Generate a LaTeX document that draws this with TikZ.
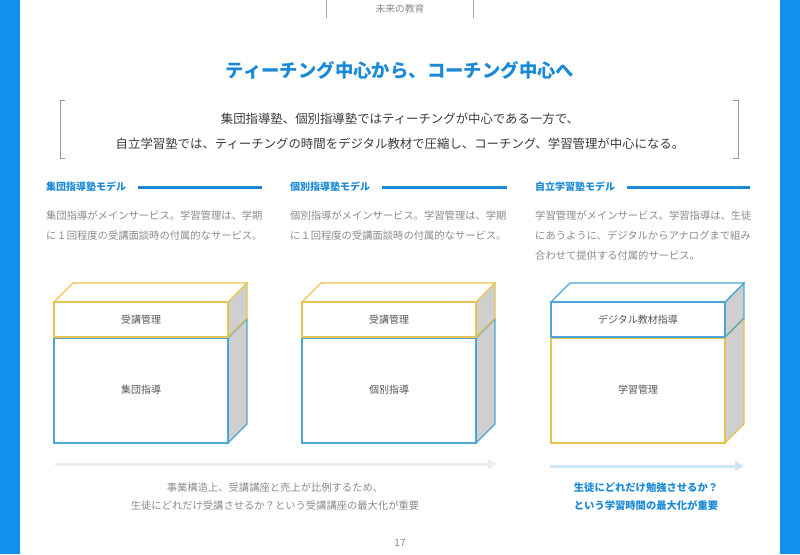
\documentclass[tikz,border=0pt]{standalone}
\usepackage{fontspec}
\setmainfont{Noto Sans CJK JP}
\usetikzlibrary{arrows.meta}

\definecolor{sidebar}{HTML}{1190EE}
\definecolor{headblue}{HTML}{1B8AD6}
\definecolor{boxblue}{HTML}{4BA6D6}
\definecolor{gold}{HTML}{E6C352}
\definecolor{sidegray}{HTML}{CFCFCF}
\definecolor{darktext}{HTML}{3A3A3A}
\definecolor{descgray}{HTML}{8A8A8A}
\definecolor{labelgray}{HTML}{555555}
\definecolor{arrowgray}{HTML}{EEEEEE}
\definecolor{arrowblue}{HTML}{CDE6F6}

\begin{document}
\begin{tikzpicture}[x=1pt,y=-1pt,
  heading/.style={anchor=west,inner sep=0,text=headblue,font=\bfseries\fontsize{10}{12}\selectfont},
  rule/.style={line width=3pt,draw=headblue},
  desc/.style={anchor=north west,inner sep=0,align=left,text=descgray,font=\fontsize{10.3}{20}\selectfont},
  boxlabel/.style={text=labelgray,font=\fontsize{10}{12}\selectfont},
  flow/.style={line width=3pt,-{Triangle[length=9pt,width=10pt]}}]
\useasboundingbox (0,0) rectangle (800,554);

% side bars
\fill[sidebar] (0,0) rectangle (20,554);
\fill[sidebar] (780,0) rectangle (800,554);

% header tab
\draw[gray!70,line width=0.8pt] (326,0) -- (326,18);
\draw[gray!70,line width=0.8pt] (473,0) -- (473,18);
\node[text=descgray,font=\fontsize{9.8}{11}\selectfont] (tab) at (400,9) {未来の教育};

\node[text=headblue,font=\bfseries\fontsize{18.4}{22}\selectfont] (title) at (400,70) {ティーチング中心から、コーチング中心へ};

% quote
\draw[gray!80,line width=0.8pt] (65,100) -- (60,100) -- (60,158) -- (65,158);
\draw[gray!80,line width=0.8pt] (733,100) -- (738,100) -- (738,158) -- (733,158);
\node[text=darktext,font=\fontsize{12.4}{25}\selectfont,align=center] (lead) at (400,131)
  {集団指導塾、個別指導塾ではティーチングが中心である一方で、\\
   自立学習塾では、ティーチングの時間をデジタル教材で圧縮し、コーチング、学習管理が中心になる。};

% model headings
\node[heading] (hd1) at (46,187) {集団指導塾モデル};
\node[heading] (hd2) at (290,187) {個別指導塾モデル};
\node[heading] (hd3) at (535,187) {自立学習塾モデル};
\draw[rule] ([xshift=12pt]hd1.east) -- (262,187);
\draw[rule] ([xshift=12pt]hd2.east) -- (507,187);
\draw[rule] ([xshift=12pt]hd3.east) -- (750,187);

\node[desc] (ds1) at (46,211) {集団指導がメインサービス。学習管理は、学期\\に１回程度の受講面談時の付属的なサービス。};
\node[desc] (ds2) at (290,211) {個別指導がメインサービス。学習管理は、学期\\に１回程度の受講面談時の付属的なサービス。};
\node[desc] (ds3) at (535,211) {学習管理がメインサービス。学習指導は、生徒\\にあうように、デジタルからアナログまで組み\\合わせて提供する付属的サービス。};

% blocks
\foreach \x/\ctop/\cbot/\ltop/\lbot/\n in {54/gold/boxblue/受講管理/集団指導/1,
    302/gold/boxblue/受講管理/個別指導/2, 551/boxblue/gold/デジタル教材指導/学習管理/3}{
  \filldraw[fill=sidegray,draw=\cbot,line width=1.1pt] (\x+174,338) -- (\x+193,319) -- (\x+193,424) -- (\x+174,443) -- cycle;
  \filldraw[fill=white,draw=\cbot,line width=1.1pt] (\x,338) rectangle (\x+174,443);
  \filldraw[fill=sidegray,draw=\ctop,line width=1.1pt] (\x+174,302) -- (\x+193,283) -- (\x+193,318) -- (\x+174,337) -- cycle;
  \filldraw[fill=white,draw=\ctop,line width=1.1pt] (\x,302) -- (\x+19,283) -- (\x+193,283) -- (\x+174,302) -- cycle;
  \filldraw[fill=white,draw=\ctop,line width=1.1pt] (\x,302) rectangle (\x+174,337);
  \node[boxlabel] (top\n) at (\x+87,319.5) {\ltop};
  \node[boxlabel] (bot\n) at (\x+87,390) {\lbot};
}

% flows
\coordinate (fa) at (55,464);
\coordinate (fb) at (497,464);
\coordinate (fc) at (550,466);
\coordinate (fd) at (744,466);
\draw[flow,draw=arrowgray,color=arrowgray] (fa) -- (fb);
\draw[flow,draw=arrowblue,color=arrowblue] (fc) -- (fd);

\node[text=descgray,font=\fontsize{10.3}{18}\selectfont,align=center] (sum1) at (275,497)
  {事業構造上、受講講座と売上が比例するため、\\生徒にどれだけ受講させるか？という受講講座の最大化が重要};
\node[text=headblue,font=\bfseries\fontsize{10.3}{18}\selectfont,align=center] (sum2) at (646,497)
  {生徒にどれだけ勉強させるか？\\という学習時間の最大化が重要};

\node[text=descgray,font=\fontsize{10}{11}\selectfont] (page) at (400,543) {17};
\end{tikzpicture}
\end{document}
